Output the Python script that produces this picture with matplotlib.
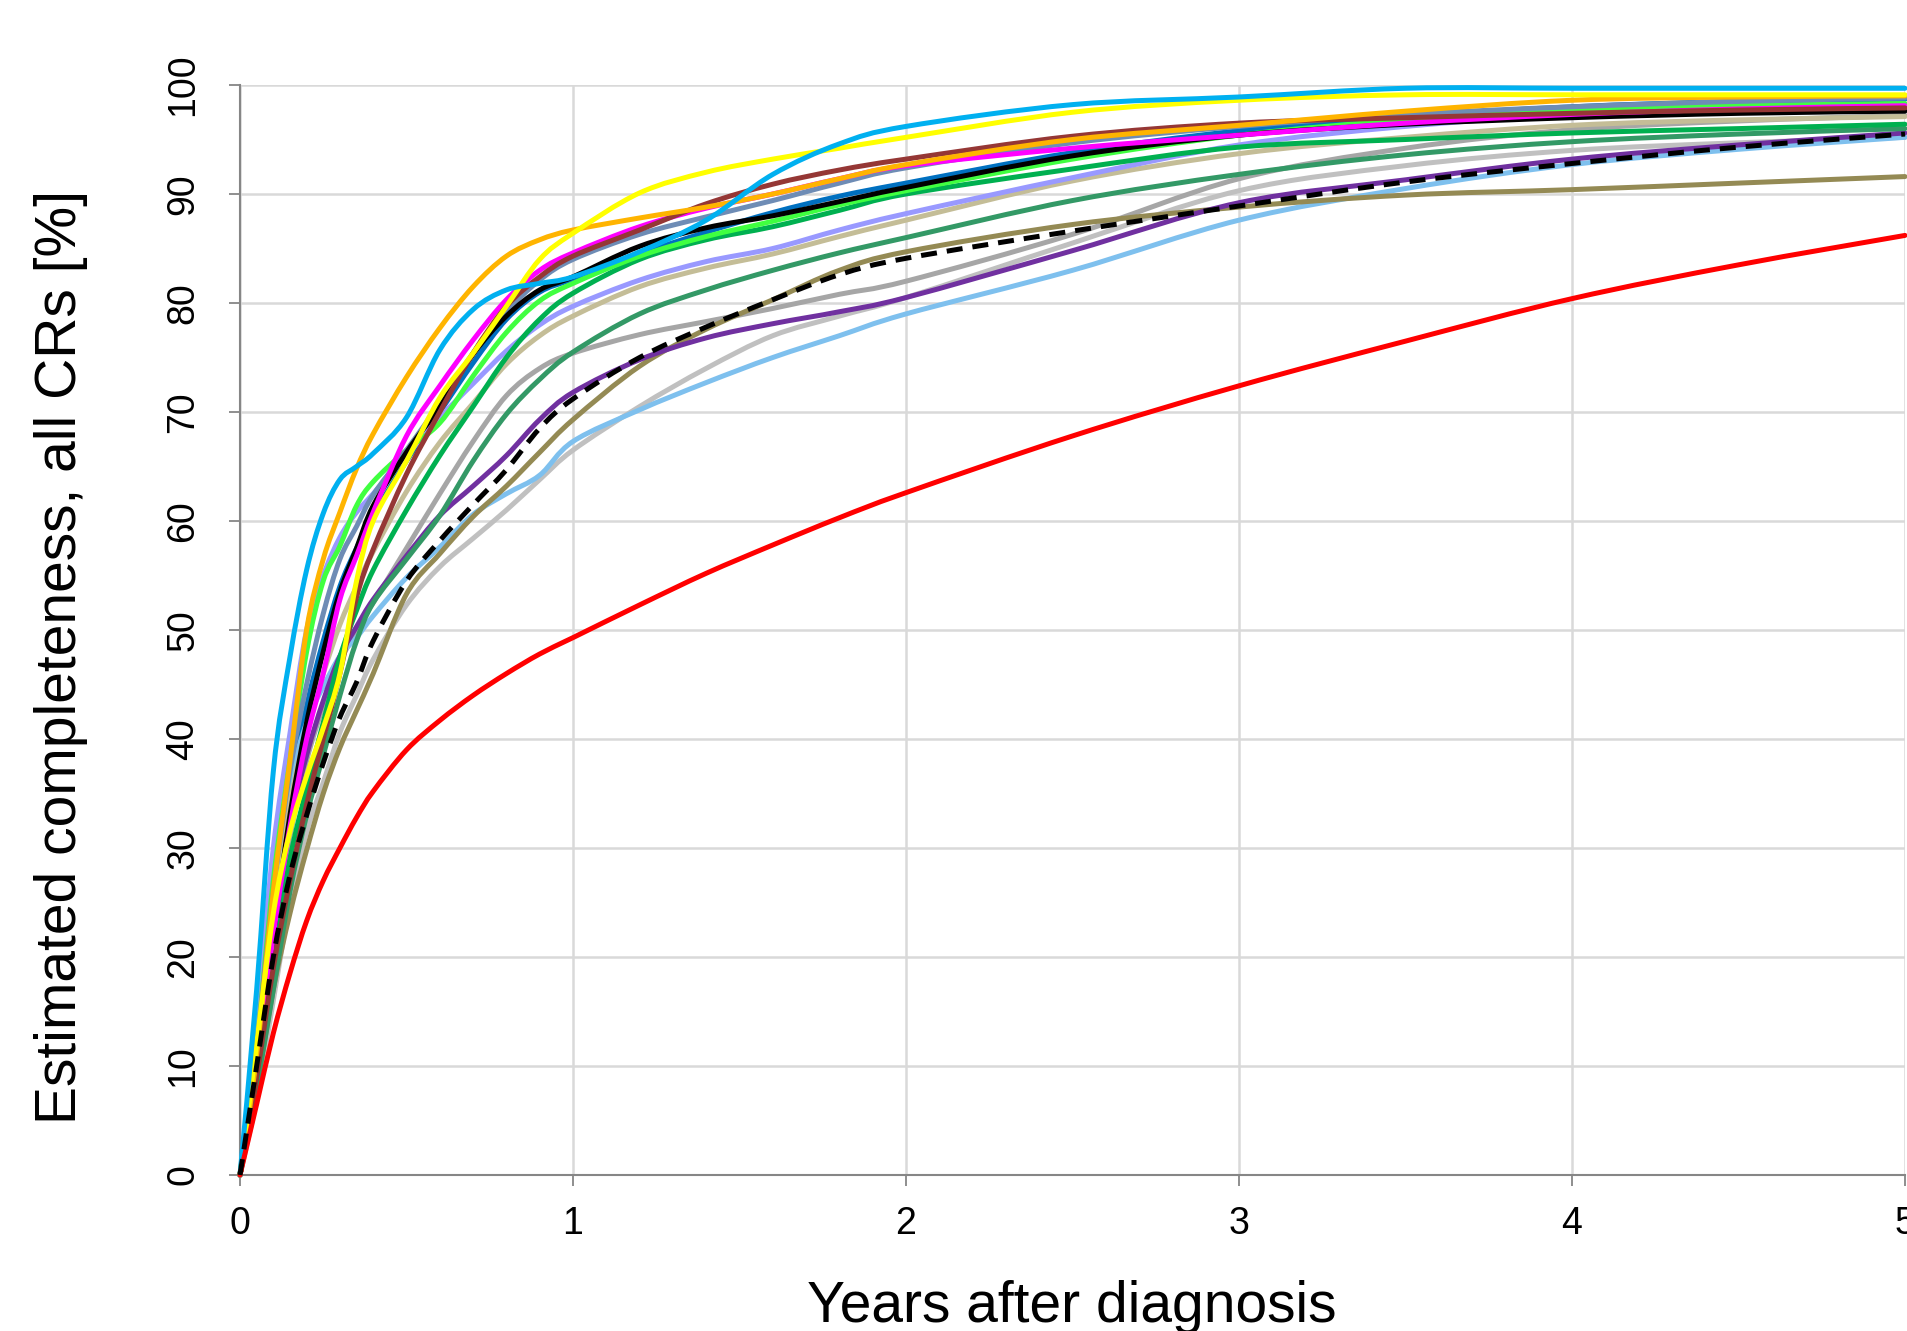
import numpy as np
import matplotlib
matplotlib.use("Agg")
import matplotlib.pyplot as plt
from matplotlib.path import Path
from matplotlib.patches import PathPatch

plt.rcParams['font.family'] = ['Liberation Sans', 'DejaVu Sans']

# years after diagnosis (common sampling for every registry curve)
years = [0, 0.05, 0.1, 0.15, 0.2, 0.25, 0.3, 0.35, 0.4, 0.5, 0.6, 0.7, 0.8, 0.9, 1.0,
         1.2, 1.4, 1.6, 1.8, 2.0, 2.5, 3.0, 3.5, 4.0, 4.5, 5.0]

# estimated completeness [%] per registry
red = [0, 6.5, 13, 18.5, 23.3, 27, 30, 32.8, 35.2, 39, 41.7, 44.0, 46.0, 47.8, 49.3,
       52.3, 55.2, 57.8, 60.3, 62.6, 67.8, 72.4, 76.5, 80.4, 83.5, 86.2]
cyan = [0, 17, 37, 47.5, 55.5, 60.7, 63.8, 65.0, 66.2, 69.5, 75.7, 79.4, 81.2, 81.8, 82.4,
        84.7, 87.6, 91.8, 94.6, 96.2, 98.2, 98.9, 99.7, 99.7, 99.7, 99.7]
orange = [0, 11, 26, 38, 50, 56.5, 60.8, 64.8, 68, 73.2, 77.7, 81.5, 84.3, 85.8, 86.7,
          87.8, 88.8, 90.0, 91.4, 92.7, 95.0, 96.3, 97.6, 98.6, 98.9, 99.0]
yellow = [0, 12, 24, 31.5, 36.6, 41, 46, 54.5, 60, 65.5, 71.3, 75.4, 79.7, 84, 86.4,
          90.1, 92.0, 93.2, 94.2, 95.2, 97.5, 98.6, 99.1, 99.1, 99.1, 99.1]
brown = [0, 9, 19, 27, 34, 40, 46, 53, 57.4, 64.3, 70, 75.4, 79.7, 82.4, 84.3,
         86.7, 89.1, 90.9, 92.2, 93.2, 95.3, 96.5, 97.0, 97.4, 97.7, 97.9]
magenta = [0, 10, 22, 32, 40, 46, 52.8, 56.8, 60.8, 67.8, 72.4, 76.6, 80.3, 83.0, 84.6,
           87.0, 88.7, 90.0, 91.4, 92.6, 94.2, 95.4, 96.5, 97.3, 97.8, 98.1]
black = [0, 10, 22, 33, 41.5, 48, 53.5, 57.5, 61.4, 66.3, 70.5, 75.3, 78.8, 81.2, 82.4,
         85.2, 86.9, 88.0, 89.3, 90.6, 93.5, 95.4, 96.4, 97.0, 97.4, 97.6]
steel = [0, 12, 26, 37, 45, 51.5, 56.5, 59.5, 62.4, 66.5, 70.8, 75.4, 79.2, 82.1, 84.0,
         86.3, 87.9, 89.4, 91.0, 92.4, 94.7, 96.2, 97.3, 98.0, 98.5, 98.8]
dark_blue = [0, 11, 24, 35, 43, 49, 54, 57.5, 60.5, 65.5, 70, 74.5, 78.5, 81, 82.2,
             84.5, 86.5, 88.3, 89.8, 91.0, 93.8, 95.8, 97.1, 98.0, 98.5, 98.7]
bright_green = [0, 12, 27, 38, 48, 54.5, 57.7, 61.4, 63.6, 66.5, 69.0, 73.3, 77.3, 80.2, 81.8,
                84.3, 86.1, 87.5, 89.0, 90.3, 93.2, 95.4, 96.8, 97.7, 98.1, 98.3]
green = [0, 9, 20, 29, 35.5, 41.5, 47.5, 51.8, 55.5, 61, 66, 70.5, 75, 78.5, 80.9,
         84.0, 85.8, 87.0, 88.5, 90.0, 92.3, 94.3, 95.0, 95.6, 96.0, 96.4]
lavender = [0, 14, 30, 40.5, 50, 55, 58.5, 60.8, 62.5, 66, 69.5, 72.6, 75.6, 78.0, 79.7,
            82.1, 83.8, 85.0, 86.7, 88.2, 91.5, 94.5, 96.2, 97.3, 97.8, 98.0]
tan = [0, 11, 24, 34, 41, 46, 50.5, 54, 57.2, 62.7, 67.2, 70.8, 74.4, 77.0, 78.8,
       81.5, 83.2, 84.5, 86.1, 87.6, 91.2, 93.7, 95.2, 96.3, 96.8, 97.1]
sea_green = [0, 8, 17, 26, 33, 38.5, 44, 49, 52.5, 56.5, 60.5, 65.5, 69.8, 73.0, 75.5,
             79.0, 81.2, 83.0, 84.6, 86.0, 89.4, 91.8, 93.6, 94.8, 95.5, 96.0]
gray = [0, 10, 22, 31, 38, 43, 47, 50, 52.5, 57.5, 62.5, 67.3, 71.5, 74.0, 75.4,
        77.1, 78.3, 79.5, 80.8, 82.0, 86.3, 91.4, 94.2, 95.9, 96.7, 97.2]
light_gray = [0, 7, 16, 25, 31.5, 36, 40.6, 44, 47.3, 52.3, 55.8, 58.4, 61, 63.8, 66.5,
              70.5, 74, 77, 78.8, 80.5, 85.5, 90.3, 92.6, 94.0, 94.7, 95.2]
purple = [0, 10, 22, 32, 38.5, 43.5, 47.6, 50.3, 52.8, 56.8, 60.5, 63.2, 66.0, 69.3, 71.8,
          74.8, 76.8, 78.1, 79.2, 80.5, 84.8, 89.2, 91.3, 93.2, 94.5, 95.6]
olive = [0, 8, 17, 24, 29.8, 35, 39.2, 42.6, 46, 53.3, 57, 60.4, 63.2, 66.3, 69.3,
         74.2, 77.6, 80.3, 83.0, 84.7, 87.2, 88.8, 89.9, 90.4, 91.0, 91.6]
light_blue = [0, 12, 27, 36, 41.5, 44.8, 47.6, 49.3, 51.3, 54.8, 57.6, 60.6, 62.5, 64.2, 67.3,
              70.2, 72.7, 75.0, 77.0, 79.0, 83.0, 87.6, 90.5, 92.7, 94.1, 95.2]
all_crs = [0, 10, 20, 27.5, 33, 37.8, 42, 45.2, 49, 54.5, 58.2, 61.5, 64.7, 68.5, 71.2,
           75.0, 77.8, 80.3, 82.6, 84.1, 86.6, 88.9, 91.1, 92.8, 94.3, 95.5]

series = [
    (dark_blue, '#0070C0'),
    (light_gray, '#C0C0C0'),
    (gray, '#A6A6A6'),
    (light_blue, '#7EC0EE'),
    (olive, '#948A54'),
    (purple, '#7030A0'),
    (sea_green, '#339966'),
    (tan, '#C4BD97'),
    (lavender, '#9999FF'),
    (green, '#00B050'),
    (bright_green, '#40FF40'),
    (steel, '#6E8CB5'),
    (black, '#000000'),
    (magenta, '#FF00FF'),
    (brown, '#953735'),
    (orange, '#FFB400'),
    (yellow, '#FFFF00'),
    (cyan, '#00B0F0'),
    (red, '#FF0000'),
]


def smooth_path(x, y):
    # Excel style "smoothed line": cubic Bezier through the read points
    p = np.column_stack([x, y]).astype(float)
    ext = np.vstack([p[0], p, p[-1]])
    verts = [p[0]]
    codes = [Path.MOVETO]
    for i in range(len(p) - 1):
        p0, p1, p2, p3 = ext[i], ext[i + 1], ext[i + 2], ext[i + 3]
        verts += [p1 + (p2 - p0) / 6, p2 - (p3 - p1) / 6, p2]
        codes += [Path.CURVE4] * 3
    return Path(verts, codes)


fig = plt.figure(figsize=(19.08, 13.31), dpi=100)
ax = fig.add_axes([240 / 1908, 156 / 1331, 1665 / 1908, 1090 / 1331])

for vals, col in series:
    ax.add_patch(PathPatch(smooth_path(years, vals), facecolor='none', edgecolor=col,
                           lw=3.6, capstyle='round', joinstyle='round',
                           clip_on=False, zorder=3))
ax.add_patch(PathPatch(smooth_path(years, all_crs), facecolor='none', edgecolor='black',
                       lw=3.6, linestyle=(0, (3.2, 2.0)), capstyle='butt',
                       clip_on=False, zorder=4))

ax.set_xlim(0, 5)
ax.set_ylim(0, 100)
ax.set_xticks(range(0, 6))
ax.set_yticks(range(0, 101, 10))
ax.grid(True, color='#D9D9D9', lw=1.8)
ax.set_axisbelow(True)
for s in ['top', 'right']:
    ax.spines[s].set_visible(False)
for s in ['left', 'bottom']:
    ax.spines[s].set_color('#868686')
    ax.spines[s].set_linewidth(1.5)
ax.tick_params(axis='both', colors='#868686', length=8, width=1.3, labelcolor='black',
               labelsize=27)
ax.tick_params(axis='x', pad=14)
ax.tick_params(axis='y', pad=20)
for lab in ax.get_yticklabels():
    lab.set_rotation(90)
    lab.set_va('center')

fig.text(61 / 1908, 1 - 657 / 1331, 'Estimated completeness, all CRs [%]',
         rotation=90, ha='center', va='center', fontsize=41)
fig.text(1072 / 1908, 1 - 1322 / 1331, 'Years after diagnosis',
         ha='center', va='baseline', fontsize=41)

fig.savefig('out.png', dpi=100)
